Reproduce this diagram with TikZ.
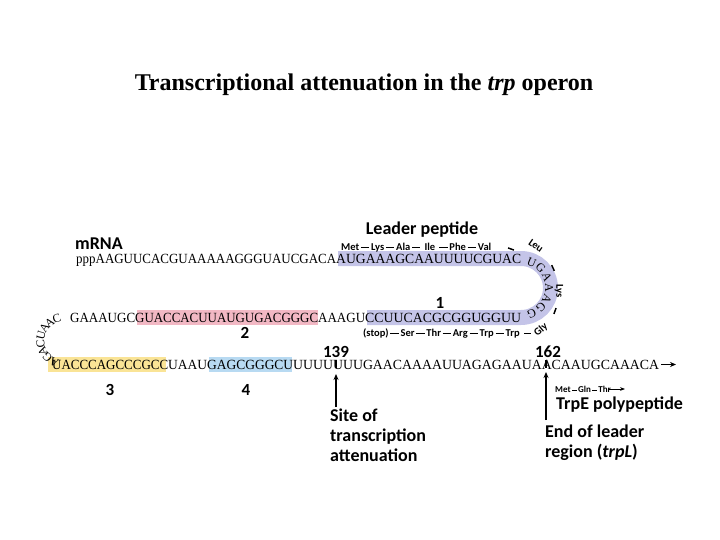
\documentclass[tikz,border=0pt]{standalone}
\usepackage{fontspec}
\setmainfont{Liberation Serif}
\newfontfamily\lab{Carlito}
\usetikzlibrary{arrows.meta}
\newcommand{\sq}[2]{\resizebox{#1pt}{\height}{#2}}
\newcommand{\dd}{\,\rule[0.3ex]{0.8em}{0.14em}\,}
\definecolor{pur}{RGB}{196,196,232}
\definecolor{pnk}{RGB}{242,184,196}
\definecolor{yel}{RGB}{250,228,150}
\definecolor{lbl}{RGB}{184,218,242}
\begin{document}
\begin{tikzpicture}[x=1pt,y=1pt,
  seq/.style={font=\fontsize{14}{14}\selectfont, inner sep=0pt, anchor=base west},
  arcl/.style={font=\fontsize{12}{12}\selectfont, inner sep=0pt},
  aa/.style={font=\lab\bfseries\fontsize{10.5}{10.5}\selectfont, inner sep=0pt},
  big/.style={font=\lab\bfseries\fontsize{18}{20}\selectfont, inner sep=0pt, align=left},
  num/.style={font=\lab\bfseries\fontsize{17}{17}\selectfont, inner sep=0pt},
  hl/.style={line width=15pt},
  arr/.style={-{Stealth[length=6pt,width=5pt]}, line width=1.3pt}]
\useasboundingbox (0,0) rectangle (720,-540);
\node[font=\bfseries\fontsize{24}{24}\selectfont] (title) at (364,-85) {Transcriptional attenuation in the \textit{trp} operon};
% highlights
\draw[pur,hl] (338,-258.5) -- (521,-258.5) arc[start angle=90,end angle=-90,radius=29.5] -- (367,-317.5);
\draw[pnk,hl] (137,-317.5) -- (318,-317.5);
\draw[yel,hl] (48,-364.5) -- (166,-364.5);
\draw[lbl,hl] (209,-364.5) -- (292,-364.5);
% sequences
\node[seq] (r1a) at (76,-263) {\sq{260}{pppAAGUUCACGUAAAAAGGGUAUCGACA}};
\node[seq] (r1b) at (336,-263) {\sq{185}{AUGAAAGCAAUUUUCGUAC}};
\node[seq] (r2a) at (70,-322) {\sq{65}{GAAAUGC}};
\node[seq] (r2b) at (135,-322) {\sq{183}{GUACCACUUAUGUGACGGGC}};
\node[seq] (r2c) at (318,-322) {\sq{47}{AAAGU}};
\node[seq] (r2d) at (365,-322) {\sq{156}{CCUUCACGCGGUGGUU}};
\node[seq] (r3a) at (52,-369) {\sq{116}{UACCCAGCCCGCC}};
\node[seq] (r3b) at (168,-369) {\sq{39}{UAAU}};
\node[seq] (r3c) at (207,-369) {\sq{86}{GAGCGGGCU}};
\node[seq] (r3d) at (293,-369) {\sq{366}{UUUUUUUGAACAAAAUUAGAGAAUAACAAUGCAAACA}};
\coordinate (seqstart) at (661,-364.5);
\coordinate (seqend) at (676,-364.5);
\draw[arr,line width=1pt] (seqstart) -- (seqend);
% arc letters
\foreach \l [count=\i] in {U,G,A,A,A,G,G} {
  \pgfmathsetmacro{\a}{90-22.5*\i}
  \node[arcl,rotate=\a-90] (ra\i) at ({521+28*cos(\a)},{-288+28*sin(\a)}) {\l};
}
\foreach \l [count=\i] in {A,G,A,C,U,A,A,C} {
  \pgfmathsetmacro{\a}{264-19.5*\i}
  \node[arcl,rotate=\a-90] (la\i) at ({64+23.5*cos(\a)},{-341+23.5*sin(\a)}) {\l};
}
% labels
\node[big,anchor=base west] (mrna) at (75,-249) {mRNA};
\node[big,anchor=base] (lp) at (422,-234) {Leader peptide};
\node[aa,anchor=base west] (aa1) at (341,-250) {Met\dd Lys\dd Ala\dd\ Ile\ \dd Phe\dd Val};
\node[aa,rotate=-20] (d1) at (511,-249) {\rule{0.6em}{0.14em}};
\node[aa,rotate=-35] (leu) at (536,-246) {Leu};
\node[aa,rotate=-65] (d2) at (553,-268) {\rule{0.6em}{0.14em}};
\node[aa,rotate=-90] (lys) at (559,-291) {Lys};
\node[aa,rotate=-110] (d3) at (555,-311) {\rule{0.6em}{0.14em}};
\node[aa,rotate=40] (gly) at (541,-330) {Gly};
\node[aa,anchor=base west] (aa2) at (363,-336) {(stop)\dd Ser\dd Thr\dd Arg\dd Trp\dd Trp\ \ \rule[0.3ex]{0.6em}{0.14em}};
\node[num] (n1) at (440,-303) {1};
\node[num] (n2) at (245,-333) {2};
\node[num] (n3) at (110,-390) {3};
\node[num] (n4) at (246,-390) {4};
\node[num] (n139) at (336,-352) {139};
\node[num] (n162) at (548,-352) {162};
\draw[line width=1.2pt] (n139.south) ++(0,-2) -- ++(0,-8);
\draw[line width=1.2pt] (n162.south) ++(-2,-2) -- ++(0,-8);
\node[big,anchor=north west] (site) at (330,-409) {Site of\\transcription\\attenuation};
\coordinate (s139) at (336,-374);
\coordinate (s162) at (546,-372);
\draw[arr] (336,-407) -- (s139);
\draw[arr] (546,-420) -- (s162);
\node[aa,anchor=base west,font=\lab\bfseries\fontsize{9}{9}\selectfont] (aa3) at (555,-392) {Met\,\rule[0.3ex]{0.5em}{0.1em}\,Gln\,\rule[0.3ex]{0.5em}{0.1em}\,Thr};
\coordinate (aas) at (609,-389);
\coordinate (aaend) at (625,-389);
\draw[-{Stealth[length=5pt]},line width=0.9pt] (aas) -- (aaend);
\node[big,anchor=base west] (trpe) at (556,-409) {TrpE polypeptide};
\node[big,anchor=north west] (end) at (545,-425) {End of leader\\region (\textit{trpL})};
\end{tikzpicture}
\end{document}
